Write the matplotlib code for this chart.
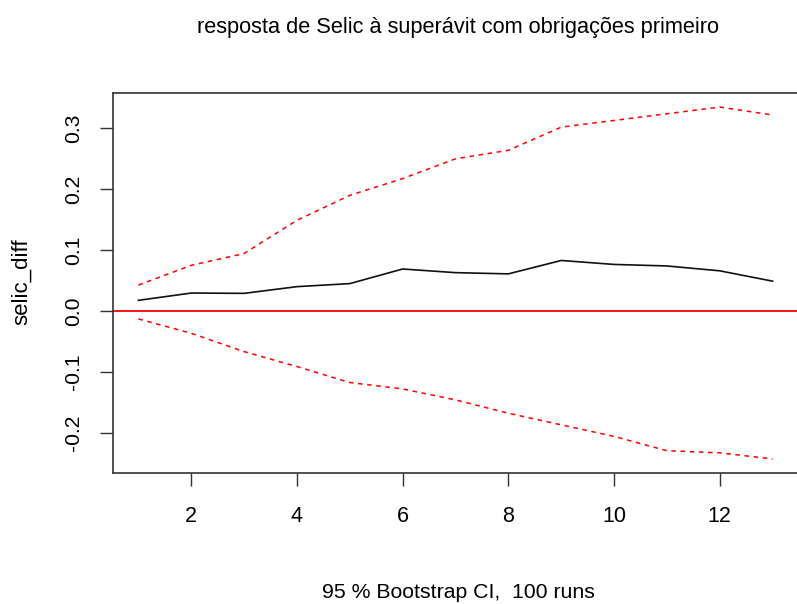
import matplotlib
matplotlib.use("Agg")
import matplotlib.pyplot as plt

plt.rcParams['font.family'] = ['Liberation Sans', 'DejaVu Sans']

horizon = list(range(1, 14))
irf = [0.0175, 0.0295, 0.029, 0.040, 0.045, 0.069, 0.063, 0.061, 0.083, 0.0765, 0.074, 0.066, 0.049]
upper = [0.0426, 0.075, 0.0945, 0.149, 0.190, 0.2175, 0.250, 0.264, 0.302, 0.313, 0.324, 0.335, 0.322]
lower = [-0.013, -0.0366, -0.0667, -0.0913, -0.1175, -0.128, -0.146, -0.168, -0.187, -0.206, -0.2295, -0.233, -0.243]
xticks = [2, 4, 6, 8, 10, 12]
yticks = [-0.2, -0.1, 0.0, 0.1, 0.2, 0.3]

W, H = 797, 604
fig = plt.figure(figsize=(W / 100, H / 100), dpi=100)
left, right, top, bottom = 113, 798, 93, 473
ax = fig.add_axes([left / W, 1 - bottom / H, (right - left) / W, (bottom - top) / H])

ax.plot(horizon, irf, color='#111111', lw=1.2)
ax.plot(horizon, upper, color='red', lw=1.1, dashes=(3, 3))
ax.plot(horizon, lower, color='red', lw=1.1, dashes=(3, 3))
ax.axhline(0, color='red', lw=1.3)

lo = min(lower); hi = max(upper); r = hi - lo
ax.set_ylim(lo - 0.04 * r, hi + 0.04 * r)
ax.set_xlim(1 - 0.04 * 12, 13 + 0.04 * 12)

ax.set_xticks(xticks)
ax.set_xticklabels([str(t) for t in xticks], fontsize=15.5)
ax.set_yticks(yticks)
ax.set_yticklabels([f"{t:.1f}" for t in yticks], fontsize=15.2, rotation=90, va='center')
ax.tick_params(axis='both', length=9.5, width=1, color='#333333')
ax.tick_params(axis='x', pad=14)
ax.tick_params(axis='y', pad=12)
for s in ax.spines.values():
    s.set_color('#333333')
    s.set_linewidth(1.2)

fig.text(458 / W, 1 - 28 / H, "resposta de Selic à superávit com obrigações primeiro",
         ha='center', va='center', fontsize=15.7)
fig.text(22 / W, 1 - 282 / H, "selic_diff", rotation=90, ha='center', va='center', fontsize=16)
fig.text(458 / W, 1 - 593 / H, "95 % Bootstrap CI,  100 runs", ha='center', va='center', fontsize=15.3)

fig.savefig("out.png", dpi=100)
